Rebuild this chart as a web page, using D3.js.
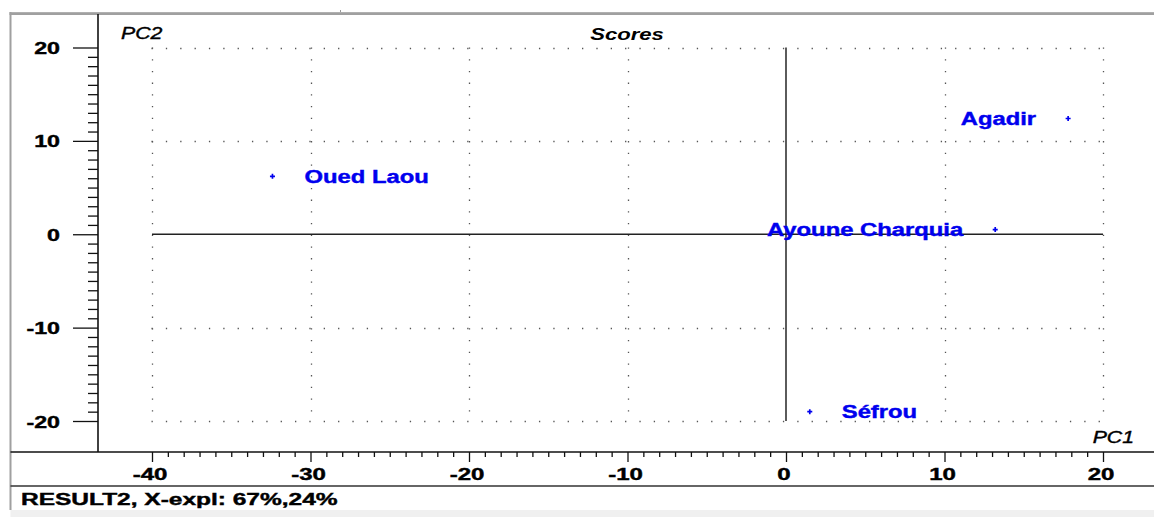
<!DOCTYPE html>
<html>
<head>
<meta charset="utf-8">
<script src="https://cdn.jsdelivr.net/npm/d3@7"></script>
<style>
  html, body { margin: 0; padding: 0; background: #ffffff; }
  svg { display: block; }
  text { font-family: "Liberation Sans", Arial, sans-serif; }
</style>
</head>
<body>
<svg id="chart" width="1154" height="517"></svg>
<script>
// ---- data ----
const sampleNames = ["Oued Laou", "Agadir", "Ayoune Charquia", "Séfrou"];
const pc1Scores = [-32.4, 17.8, 13.2, 1.5];
const pc2Scores = [6.2, 12.4, 0.5, -19.0];
const xTickValues = [-40, -30, -20, -10, 0, 10, 20];
const yTickValues = [-20, -10, 0, 10, 20];
const chartTitle = "Scores";
const xAxisTitle = "PC1";
const yAxisTitle = "PC2";
const statusText = "RESULT2, X-expl: 67%,24%";

// ---- layout ----
const W = 1154, H = 517;
const svg = d3.select("#chart");
const x = d3.scaleLinear().domain([-40, 20]).range([152, 1103]);
const y = d3.scaleLinear().domain([-20, 20]).range([421, 47.5]);

const frameLeft = 10.5, axisX = 98, axisY = 452, statusY = 486;

function stretch(sel, k) {
  sel.each(function () {
    const len = this.getComputedTextLength();
    d3.select(this).attr("textLength", len * k).attr("lengthAdjust", "spacingAndGlyphs");
  });
}

// window frame
svg.append("rect").attr("x", frameLeft).attr("y", 510).attr("width", W - frameLeft).attr("height", 7).attr("fill", "#f0f0f0");
svg.append("line").attr("x1", frameLeft - 1).attr("x2", W).attr("y1", 12.5).attr("y2", 12.5).attr("stroke", "#b0b0b0").attr("stroke-width", 1);
svg.append("line").attr("x1", frameLeft - 1).attr("x2", W).attr("y1", 14).attr("y2", 14).attr("stroke", "#808080").attr("stroke-width", 1.5);
svg.append("line").attr("x1", 340.5).attr("x2", 340.5).attr("y1", 10).attr("y2", 12).attr("stroke", "#999");
svg.append("line").attr("x1", frameLeft).attr("x2", frameLeft).attr("y1", 12).attr("y2", 510).attr("stroke", "#a0a0a0").attr("stroke-width", 2);

// dotted grid
const g = svg.append("g");
const dotColor = "#555";
xTickValues.filter(v => v !== 0).forEach(v => {
  g.append("line").attr("x1", Math.round(x(v)) + 0.5).attr("x2", Math.round(x(v)) + 0.5)
    .attr("y1", y(20)).attr("y2", y(-20) + 1)
    .attr("stroke", dotColor).attr("stroke-width", 1.3).attr("stroke-dasharray", "1.3,10.4");
});
yTickValues.filter(v => v !== 0).forEach(v => {
  g.append("line").attr("y1", Math.round(y(v)) + 0.5).attr("y2", Math.round(y(v)) + 0.5)
    .attr("x1", x(-40) - 0.5).attr("x2", x(20) + 1)
    .attr("stroke", dotColor).attr("stroke-width", 1.3).attr("stroke-dasharray", "1.3,13.05");
});

// zero lines
g.append("line").attr("x1", x(0)).attr("x2", x(0)).attr("y1", y(20)).attr("y2", y(-20))
  .attr("stroke", "#333").attr("stroke-width", 1.6);
g.append("line").attr("x1", x(-40)).attr("x2", x(20)).attr("y1", y(0)).attr("y2", y(0))
  .attr("stroke", "#222").attr("stroke-width", 1.3);

// y axis
svg.append("line").attr("x1", axisX).attr("x2", axisX).attr("y1", 14).attr("y2", axisY)
  .attr("stroke", "#111").attr("stroke-width", 1.6);
const yAxis = d3.axisLeft(y).tickValues(d3.range(-20, 21, 1)).tickSize(10).tickFormat("");
const yAx = svg.append("g").attr("transform", `translate(${axisX},0)`).call(yAxis);
yAx.select(".domain").remove();
yAx.selectAll(".tick line").attr("stroke", "#111").attr("stroke-width", 1.3)
  .attr("x2", d => (d % 10 === 0 ? -25 : -10));
const yLab = svg.append("g").selectAll("text").data(yTickValues).join("text")
  .attr("x", 60).attr("y", d => y(d) + 6.5).attr("text-anchor", "end")
  .attr("font-size", 16).attr("font-weight", "bold").attr("fill", "#000")
  .attr("stroke", "#000").attr("stroke-width", 0.4)
  .text(d => d);
stretch(yLab, 1.45);

// x axis
svg.append("line").attr("x1", frameLeft).attr("x2", W).attr("y1", axisY).attr("y2", axisY)
  .attr("stroke", "#111").attr("stroke-width", 1.6);
const xAxis = d3.axisBottom(x).tickValues(d3.range(-40, 21, 1)).tickSize(5).tickFormat("");
const xAx = svg.append("g").attr("transform", `translate(0,${axisY})`).call(xAxis);
xAx.select(".domain").remove();
xAx.selectAll(".tick line").attr("stroke", "#111").attr("stroke-width", 1.3)
  .attr("y2", d => (d % 10 === 0 ? 10 : 5));
const xLab = svg.append("g").selectAll("text").data(xTickValues).join("text")
  .attr("x", d => x(d) - 2).attr("y", 480).attr("text-anchor", "middle")
  .attr("font-size", 16).attr("font-weight", "bold").attr("fill", "#000")
  .attr("stroke", "#000").attr("stroke-width", 0.4)
  .text(d => d);
stretch(xLab, 1.5);

// status bar
svg.append("line").attr("x1", frameLeft).attr("x2", W).attr("y1", statusY).attr("y2", statusY)
  .attr("stroke", "#333").attr("stroke-width", 1.6);
const st = svg.append("text").attr("x", 21).attr("y", 505)
  .attr("font-size", 16).attr("font-weight", "bold").attr("fill", "#000")
  .attr("stroke", "#000").attr("stroke-width", 0.4).text(statusText);
stretch(st, 1.53);

// titles
const t1 = svg.append("text").attr("x", 121).attr("y", 39).attr("font-size", 17)
  .attr("font-style", "italic").attr("fill", "#000").attr("stroke", "#000").attr("stroke-width", 0.4).text(yAxisTitle);
stretch(t1, 1.25);
const t2 = svg.append("text").attr("x", 627).attr("y", 40).attr("text-anchor", "middle").attr("font-size", 17)
  .attr("font-style", "italic").attr("font-weight", "bold").attr("fill", "#000").text(chartTitle);
stretch(t2, 1.3);
const t3 = svg.append("text").attr("x", 1134).attr("y", 443).attr("text-anchor", "end").attr("font-size", 17)
  .attr("font-style", "italic").attr("fill", "#000").attr("stroke", "#000").attr("stroke-width", 0.4).text(xAxisTitle);
stretch(t3, 1.25);

// points and labels
const pts = sampleNames.map((n, i) => ({ name: n, px: pc1Scores[i], py: pc2Scores[i] }));
const blue = "#0000ee";
svg.append("g").selectAll("path").data(pts).join("path")
  .attr("transform", d => `translate(${x(d.px)},${y(d.py)})`)
  .attr("d", d3.symbol().type(d3.symbolCross).size(14))
  .attr("fill", blue);
const labs = svg.append("g").selectAll("text").data(pts).join("text")
  .attr("x", d => d.px > 10 ? x(d.px) - 32 : x(d.px) + 32)
  .attr("y", d => y(d.py) + 6.5)
  .attr("text-anchor", d => d.px > 10 ? "end" : "start")
  .attr("font-size", 17.5).attr("font-weight", "bold").attr("fill", blue)
  .attr("stroke", blue).attr("stroke-width", 0.4)
  .text(d => d.name);
stretch(labs, 1.36);
</script>
</body>
</html>
